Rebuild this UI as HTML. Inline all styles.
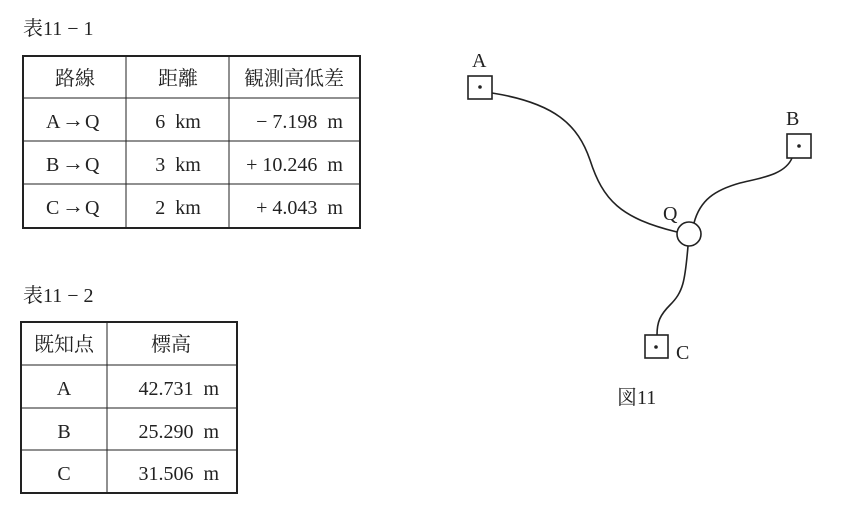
<!DOCTYPE html>
<html><head><meta charset="utf-8"><style>
html,body{margin:0;padding:0;background:#fff;}
svg{display:block;}
text{font-family:"Liberation Serif","Noto Serif CJK SC",serif;fill:#222;white-space:pre;}
.j{font-family:"Liberation Serif","Noto Serif CJK SC","Noto Sans CJK JP",serif;}
</style></head><body>
<svg width="857" height="517" viewBox="0 0 857 517" xmlns="http://www.w3.org/2000/svg" xml:space="preserve">
<rect width="857" height="517" fill="#fff"/>
<g font-size="20">
<text x="23" y="35" class="j">表11 − 1</text>
<text x="23" y="302" class="j">表11 − 2</text>
</g>
<g stroke="#222" fill="none">
<rect x="23" y="56" width="337" height="172" stroke-width="2"/>
<line x1="126" y1="56" x2="126" y2="228" stroke-width="1"/>
<line x1="229" y1="56" x2="229" y2="228" stroke-width="1"/>
<line x1="23" y1="98" x2="360" y2="98" stroke-width="1"/>
<line x1="23" y1="141" x2="360" y2="141" stroke-width="1"/>
<line x1="23" y1="184" x2="360" y2="184" stroke-width="1"/>
<rect x="21" y="322" width="216" height="171" stroke-width="2"/>
<line x1="107" y1="322" x2="107" y2="493" stroke-width="1"/>
<line x1="21" y1="365" x2="237" y2="365" stroke-width="1"/>
<line x1="21" y1="408" x2="237" y2="408" stroke-width="1"/>
<line x1="21" y1="450" x2="237" y2="450" stroke-width="1"/>
</g>
<g font-size="20" text-anchor="middle">
<text x="75" y="85" class="j">路線</text>
<text x="178" y="85" class="j">距離</text>
<text x="294" y="85" class="j">観測高低差</text>
<text x="178" y="128">6  km</text>
<text x="178" y="171">3  km</text>
<text x="178" y="214">2  km</text>
</g>
<g font-size="20">
<text x="46" y="128">A</text><text x="62" y="127" font-size="22">→</text><text x="85" y="128">Q</text>
<text x="46" y="171">B</text><text x="62" y="170" font-size="22">→</text><text x="85" y="171">Q</text>
<text x="46" y="214">C</text><text x="62" y="213" font-size="22">→</text><text x="85" y="214">Q</text>
</g>
<g font-size="20" text-anchor="end">
<text x="343" y="128">− 7.198  m</text>
<text x="343" y="171">+ 10.246  m</text>
<text x="343" y="214">+ 4.043  m</text>
<text x="219" y="395">42.731  m</text>
<text x="219" y="438">25.290  m</text>
<text x="219" y="480">31.506  m</text>
</g>
<g font-size="20" text-anchor="middle">
<text x="64" y="351" class="j">既知点</text>
<text x="171" y="351" class="j">標高</text>
<text x="64" y="395">A</text>
<text x="64" y="438">B</text>
<text x="64" y="480">C</text>
</g>
<g stroke="#222" fill="none" stroke-width="1.6">
<rect x="468" y="76" width="24" height="23"/>
<rect x="787" y="134" width="24" height="24"/>
<rect x="645" y="335" width="23" height="23"/>
<circle cx="689" cy="234" r="12" fill="#fff"/>
<path d="M492,93 C555,103 578,125 590,160 C603,200 620,218 677,232"/>
<path d="M792,158 C785,175 760,178 740,183 C715,190 700,200 694,223"/>
<path d="M688,246 C685,282 683,292 670,305 C660,315 657,322 657,335"/>
</g>
<g fill="#222">
<circle cx="480" cy="87" r="1.8"/>
<circle cx="799" cy="146" r="1.8"/>
<circle cx="656" cy="347" r="1.8"/>
</g>
<g font-size="20">
<text x="472" y="67">A</text>
<text x="786" y="125">B</text>
<text x="676" y="359">C</text>
<text x="663" y="220">Q</text>
<text x="617" y="404" class="j">図11</text>
</g>
</svg>
</body></html>
